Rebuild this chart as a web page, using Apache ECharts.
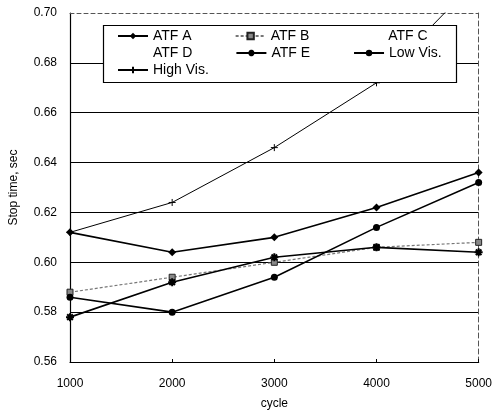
<!DOCTYPE html>
<html>
<head>
<meta charset="utf-8">
<script src="https://cdn.jsdelivr.net/npm/echarts@6/dist/echarts.min.js"></script>
<style>html,body{margin:0;padding:0;background:#fff}#c{width:495px;height:415px}</style>
</head>
<body>
<div id="c"></div>
<script>
var cycles = [1000, 2000, 3000, 4000, 5000];
var atfA = [0.612, 0.604, 0.610, 0.622, 0.636];
var atfB = [0.588, 0.594, 0.600, 0.606, 0.608];
var atfC = [];
var atfD = [];
var atfE = [0.578, 0.592, 0.602, 0.606, 0.604];
var lowVis = [0.586, 0.580, 0.594, 0.614, 0.632];
var highVis = [0.612, 0.624, 0.646, 0.672, 0.714];
var yTicks = [0.56, 0.58, 0.60, 0.62, 0.64, 0.66, 0.68, 0.70];

function pairs(v) { return v.map(function (y, i) { return [cycles[i], y]; }); }

var FONT = '"Liberation Sans", Arial, sans-serif';
var starPath = 'path://M5,0L5,10M0,5L10,5M1.5,1.5L8.5,8.5M8.5,1.5L1.5,8.5';
var plusPath = 'path://M5,0L5,10M0,5L10,5';

var chart = echarts.init(document.getElementById('c'), null, {renderer: 'canvas'});

function legendCfg(top, names) {
  return {
    top: top, left: 117, orient: 'horizontal', z: 20, padding: 0,
    itemWidth: 30, itemHeight: 8, itemGap: 43,
    selectedMode: false,
    data: names,
    textStyle: {fontFamily: FONT, fontSize: 14, color: '#000'}
  };
}

chart.setOption({
  animation: false,
  backgroundColor: '#fff',
  grid: {left: 67, right: 14, top: 13, bottom: 52},
  graphic: [{
    type: 'rect', z: 10,
    shape: {x: 103.5, y: 25.5, width: 353, height: 57},
    style: {fill: '#fff', stroke: '#000', lineWidth: 1.2}
  }],
  legend: [
    legendCfg(29, ['ATF A', 'ATF B', 'ATF C']),
    legendCfg(46, ['ATF D', 'ATF E', 'Low Vis.']),
    legendCfg(63, ['High Vis.'])
  ],
  xAxis: [{
    type: 'value', min: 1000, max: 5000, interval: 1000,
    name: 'cycle', nameLocation: 'middle', nameGap: 36,
    nameTextStyle: {fontFamily: FONT, fontSize: 12, color: '#000'},
    axisLine: {lineStyle: {color: '#000', width: 1.2}},
    axisTick: {inside: true, length: 3, lineStyle: {color: '#000'}},
    axisLabel: {fontFamily: FONT, fontSize: 12, color: '#000', margin: 16,
      formatter: function (v) { return String(v); }},
    splitLine: {show: false}
  }, {
    type: 'value', position: 'top', min: 1000, max: 5000, interval: 1000,
    axisLine: {show: true, lineStyle: {color: '#555', width: 1, type: [4, 3]}},
    axisTick: {show: false}, axisLabel: {show: false}, splitLine: {show: false}
  }],
  yAxis: [{
    type: 'value', min: 0.56, max: 0.70, interval: 0.02,
    name: 'Stop time, sec', nameLocation: 'middle', nameGap: 50, nameRotate: 90,
    nameTextStyle: {fontFamily: FONT, fontSize: 12, color: '#000'},
    axisLine: {show: true, lineStyle: {color: '#000', width: 1.2}},
    axisTick: {show: false},
    axisLabel: {fontFamily: FONT, fontSize: 12, color: '#000', margin: 13,
      formatter: function (v) { return v.toFixed(2); }},
    splitLine: {show: true, lineStyle: {color: ['#000', '#000', '#000', '#000', '#000', '#000', '#000', 'transparent'], width: 1}}
  }, {
    type: 'value', position: 'right', min: 0.56, max: 0.70, interval: 0.02,
    axisLine: {show: true, lineStyle: {color: '#555', width: 1, type: [5, 3]}},
    axisTick: {show: false}, axisLabel: {show: false}, splitLine: {show: false}
  }],
  series: [
    {name: 'ATF A', type: 'line', data: pairs(atfA), symbol: 'diamond', symbolSize: 8,
      lineStyle: {color: '#000', width: 1.6}, itemStyle: {color: '#000'}},
    {name: 'ATF B', type: 'line', data: pairs(atfB), symbol: 'rect', symbolSize: 6,
      lineStyle: {color: '#777', width: 1.2, type: [3, 2]}, itemStyle: {color: '#888', borderColor: '#222', borderWidth: 1}},
    {name: 'ATF C', type: 'line', data: atfC, symbol: 'none',
      lineStyle: {color: 'transparent'}, itemStyle: {color: 'transparent'}},
    {name: 'ATF D', type: 'line', data: atfD, symbol: 'none',
      lineStyle: {color: 'transparent'}, itemStyle: {color: 'transparent'}},
    {name: 'ATF E', type: 'line', data: pairs(atfE), symbol: starPath, symbolSize: 8,
      lineStyle: {color: '#000', width: 1.6}, itemStyle: {color: '#000', borderColor: '#000', borderWidth: 2}},
    {name: 'Low Vis.', type: 'line', data: pairs(lowVis), symbol: 'circle', symbolSize: 7,
      lineStyle: {color: '#000', width: 1.6}, itemStyle: {color: '#000'}},
    {name: 'High Vis.', type: 'line', data: pairs(highVis), symbol: plusPath, symbolSize: 7,
      lineStyle: {color: '#000', width: 1}, itemStyle: {color: '#000', borderColor: '#000', borderWidth: 1}}
  ]
});
</script>
</body>
</html>
